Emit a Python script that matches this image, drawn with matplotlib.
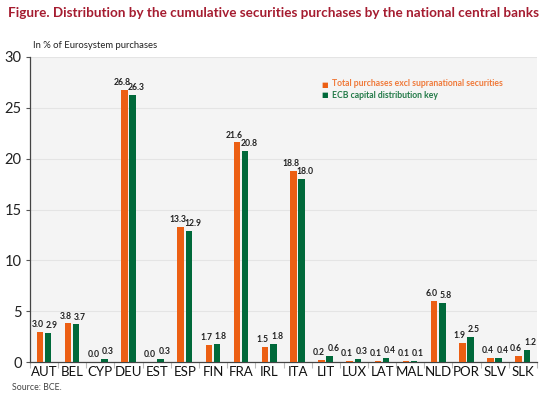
import matplotlib
matplotlib.use("Agg")
import matplotlib.pyplot as plt
import numpy as np

countries = ["AUT", "BEL", "CYP", "DEU", "EST", "ESP", "FIN", "FRA", "IRL",
             "ITA", "LIT", "LUX", "LAT", "MAL", "NLD", "POR", "SLV", "SLK"]
purchases = [3.0, 3.8, 0.0, 26.8, 0.0, 13.3, 1.7, 21.6, 1.5,
             18.8, 0.2, 0.1, 0.1, 0.1, 6.0, 1.9, 0.4, 0.6]
capital_key = [2.9, 3.7, 0.3, 26.3, 0.3, 12.9, 1.8, 20.8, 1.8,
               18.0, 0.6, 0.3, 0.4, 0.1, 5.8, 2.5, 0.4, 1.2]

orange = "#ec5f13"
green = "#00693a"

plt.rcParams['font.family'] = ['Lato', 'DejaVu Sans']

fig = plt.figure(figsize=(5.5, 3.97), dpi=100)
ax = fig.add_axes([30 / 550, 1 - 362 / 397, 507 / 550, 305 / 397])
ax.set_facecolor("#f4f4f4")

x = np.arange(len(countries))
w = 0.23
b1 = ax.bar(x - 0.15, purchases, w, color=orange, zorder=3)
b2 = ax.bar(x + 0.14, capital_key, w, color=green, zorder=3)

# labels sit a bit outwards from each bar, like in the original
for bars, vals, dx in ((b1, purchases, -1.8), (b2, capital_key, 2.6)):
    for r, v in zip(bars, vals):
        ax.annotate(f"{v:.1f}", (r.get_x() + r.get_width() / 2, v),
                    xytext=(dx, 2), textcoords="offset points",
                    ha="center", va="bottom", fontsize=6.2,
                    fontweight="bold", color="#222222")

ax.set_xlim(-0.5, len(countries) - 0.5)
ax.set_ylim(0, 30)
ax.set_yticks(range(0, 31, 5))
ax.yaxis.grid(True, color="#e4e4e4", linewidth=0.8, zorder=0)
ax.set_axisbelow(True)

ax.set_xticks(x)
ax.set_xticklabels(countries, fontsize=9.5, color="#111111")
ax.set_xticks(np.arange(-0.5, len(countries), 1), minor=True)
ax.tick_params(axis="x", which="major", length=0, pad=3)
ax.tick_params(axis="x", which="minor", length=4, color="#bbbbbb", width=0.8)
ax.tick_params(axis="y", length=3, color="#555555", labelsize=10.5, pad=3,
               labelcolor="#222222")

for s in ("top", "right"):
    ax.spines[s].set_visible(False)
ax.spines["left"].set_color("#444444")
ax.spines["bottom"].set_color("#444444")
ax.spines["left"].set_linewidth(0.9)
ax.spines["bottom"].set_linewidth(0.9)

fig.text(8 / 550, 1 - 13 / 397,
         "Figure. Distribution by the cumulative securities purchases by the national central banks",
         fontsize=9.75, fontweight="bold", color="#a51c30", va="center", ha="left")
fig.text(33 / 550, 1 - 45 / 397, "In % of Eurosystem purchases",
         fontsize=6.8, color="#222222", va="center", ha="left")
fig.text(12 / 550, 1 - 388 / 397, "Source: BCE.",
         fontsize=6.3, color="#444444", va="center", ha="left")

# legend
fig.text(325 / 550, 1 - 84 / 397, "\u25a0", fontsize=5, color=orange, va="center", ha="center")
fig.text(332 / 550, 1 - 84 / 397, "Total purchases excl supranational securities",
         fontsize=6.2, fontweight="bold", color="#f07a3a", va="center", ha="left")
fig.text(325 / 550, 1 - 95 / 397, "\u25a0", fontsize=5, color=green, va="center", ha="center")
fig.text(332 / 550, 1 - 95 / 397, "ECB capital distribution key",
         fontsize=6.2, fontweight="bold", color="#237a48", va="center", ha="left")

fig.savefig("out.png", dpi=100)
